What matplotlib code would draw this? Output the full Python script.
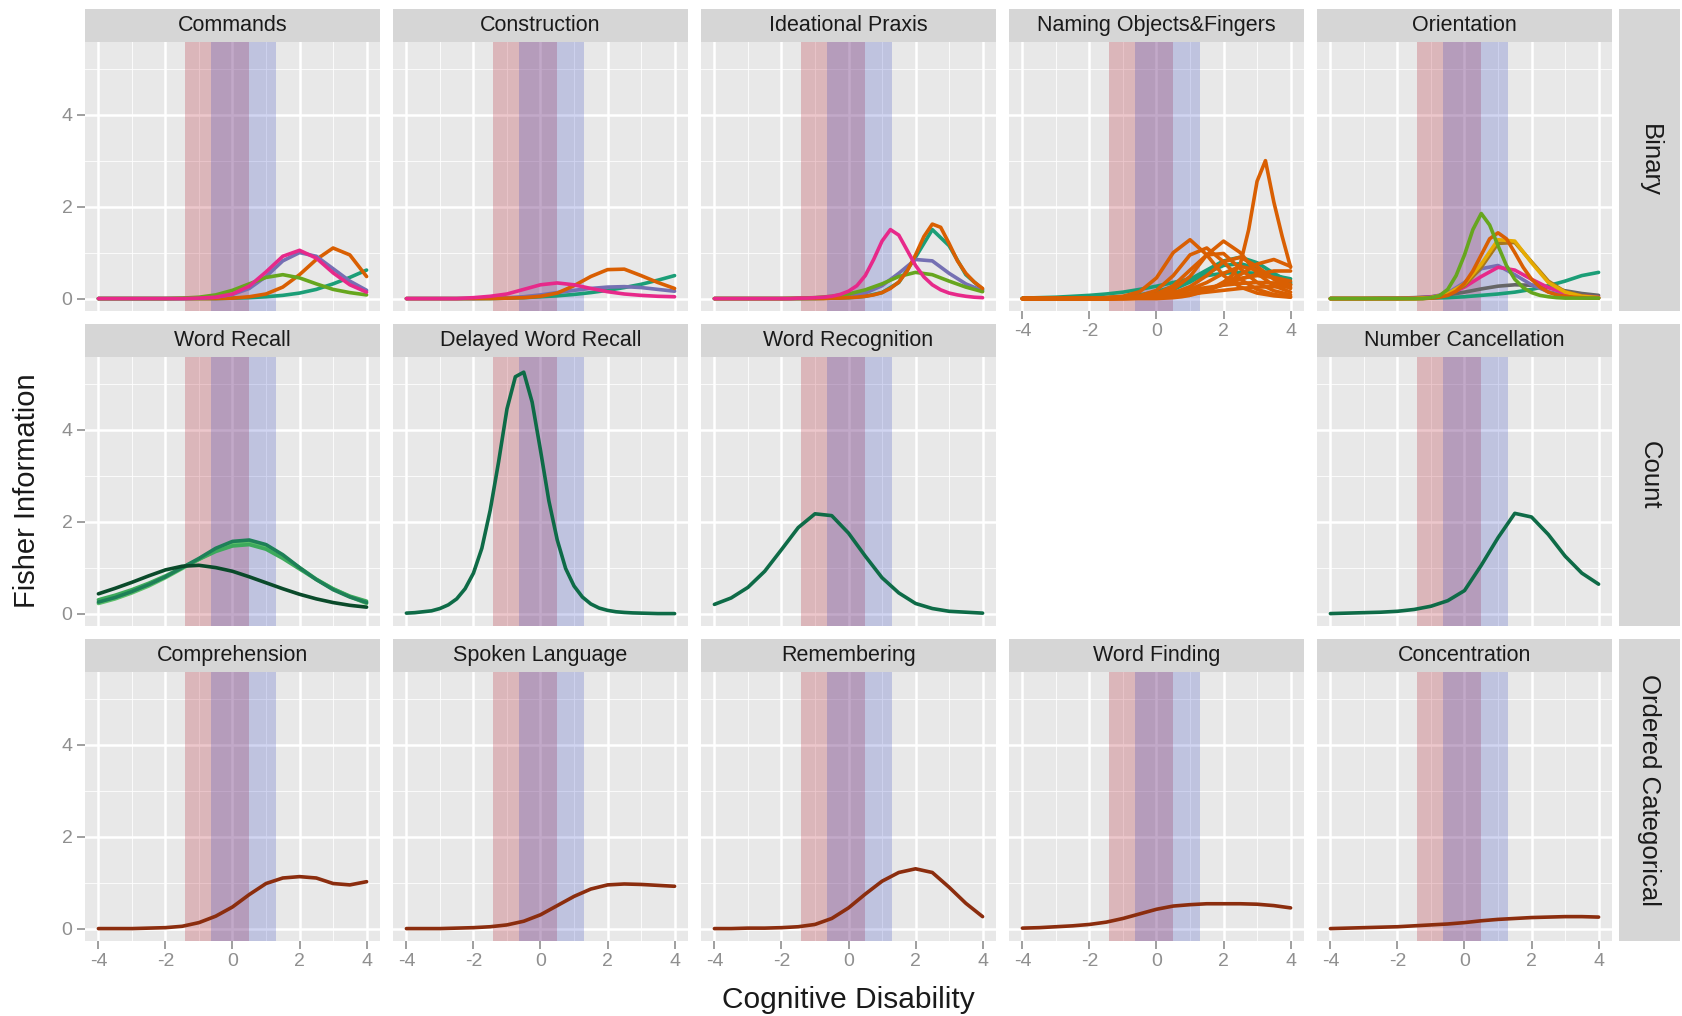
import matplotlib
matplotlib.use("Agg")
import matplotlib.pyplot as plt
from matplotlib.patches import Rectangle

plt.rcParams["font.family"] = ["Liberation Sans", "DejaVu Sans"]

# sample grids of the information curves (theta values)
X_HALF = [-4.0, -3.5, -3.0, -2.5, -2.0, -1.5, -1.0, -0.5, 0.0,
          0.5, 1.0, 1.5, 2.0, 2.5, 3.0, 3.5, 4.0]
X_QUARTER = [-4.0, -3.75, -3.5, -3.25, -3.0, -2.75, -2.5, -2.25, -2.0,
             -1.75, -1.5, -1.25, -1.0, -0.75, -0.5, -0.25, 0.0,
             0.25, 0.5, 0.75, 1.0, 1.25, 1.5, 1.75, 2.0,
             2.25, 2.5, 2.75, 3.0, 3.25, 3.5, 3.75, 4.0]

# shaded ability ranges
PINK_BAND = (-1.43, 0.48)
BLUE_BAND = (-0.63, 1.31)

TEAL, ORANGE, PURPLE, PINK = "#1B9E77", "#D95F02", "#7570B3", "#E7298A"
GREEN, YELLOW, BROWN, GREY = "#66A61E", "#E6AB02", "#A6761D", "#666666"
CNT_DARK, CNT_MID, CNT_LIGHT, CNT_PALE = "#0A4A2A", "#1E8058", "#3DAA5C", "#5CC06A"
CNT_ONE = "#0E6B47"
ORD = "#8B2D0E"

ROW_LABELS = ["Binary", "Count", "Ordered Categorical"]
PANEL_TITLES = [
    ["Commands", "Construction", "Ideational Praxis", "Naming Objects&Fingers", "Orientation"],
    ["Word Recall", "Delayed Word Recall", "Word Recognition", None, "Number Cancellation"],
    ["Comprehension", "Spoken Language", "Remembering", "Word Finding", "Concentration"],
]

# ---- Binary items ----
COMMANDS = [
    (TEAL,   [0, 0, 0, 0, 0, 0, 0, 0, 0.01, 0.02, 0.04, 0.07, 0.12, 0.2, 0.32, 0.46, 0.62]),
    (ORANGE, [0, 0, 0, 0, 0, 0, 0, 0, 0.01, 0.04, 0.1, 0.25, 0.52, 0.85, 1.1, 0.95, 0.48]),
    (PURPLE, [0, 0, 0, 0, 0, 0, 0.01, 0.03, 0.09, 0.22, 0.48, 0.82, 1.0, 0.92, 0.65, 0.38, 0.18]),
    (GREEN,  [0, 0, 0, 0, 0, 0.01, 0.03, 0.08, 0.18, 0.32, 0.46, 0.52, 0.45, 0.32, 0.2, 0.13, 0.08]),
    (PINK,   [0, 0, 0, 0, 0, 0, 0.01, 0.03, 0.1, 0.27, 0.58, 0.92, 1.05, 0.88, 0.56, 0.3, 0.14]),
]
CONSTRUCTION = [
    (TEAL,   [0, 0, 0, 0, 0, 0, 0.01, 0.02, 0.04, 0.06, 0.09, 0.13, 0.18, 0.24, 0.31, 0.4, 0.5]),
    (PURPLE, [0, 0, 0, 0, 0, 0.01, 0.02, 0.04, 0.08, 0.13, 0.18, 0.22, 0.25, 0.26, 0.24, 0.2, 0.16]),
    (ORANGE, [0, 0, 0, 0, 0, 0, 0.01, 0.02, 0.05, 0.12, 0.28, 0.48, 0.63, 0.64, 0.5, 0.35, 0.22]),
    (PINK,   [0, 0, 0, 0, 0.02, 0.05, 0.1, 0.2, 0.3, 0.34, 0.3, 0.22, 0.15, 0.1, 0.07, 0.05, 0.04]),
]
IDEATIONAL = [
    (TEAL,   [0, 0, 0, 0, 0, 0, 0, 0.01, 0.02, 0.05, 0.13, 0.35, 0.9, 1.5, 1.15, 0.52, 0.2]),
    (PURPLE, [0, 0, 0, 0, 0, 0, 0.01, 0.02, 0.05, 0.12, 0.28, 0.55, 0.85, 0.82, 0.55, 0.32, 0.17]),
    (GREEN,  [0, 0, 0, 0, 0, 0.01, 0.02, 0.05, 0.1, 0.19, 0.32, 0.48, 0.57, 0.52, 0.38, 0.25, 0.15]),
    (ORANGE, [0, 0, 0, 0, 0, 0, 0, 0, 0, 0, 0, 0, 0, 0, 0.01, 0.01,
              0.02, 0.03, 0.05, 0.08, 0.13, 0.22, 0.36, 0.6, 0.95, 1.35, 1.62, 1.55, 1.2, 0.82, 0.55, 0.36, 0.22]),
    (PINK,   [0, 0, 0, 0, 0, 0, 0, 0, 0, 0, 0.01, 0.01,
              0.02, 0.03, 0.05, 0.09, 0.16, 0.28, 0.5, 0.85, 1.25, 1.5, 1.38, 1.05, 0.72, 0.47, 0.3, 0.19, 0.12, 0.08, 0.05, 0.03, 0.02]),
]
NAMING = [
    (TEAL,   [0.01, 0.02, 0.03, 0.05, 0.07, 0.1, 0.14, 0.2, 0.27, 0.35, 0.43, 0.5, 0.55, 0.57, 0.55, 0.5, 0.43]),
    (TEAL,   [0, 0, 0, 0, 0.01, 0.02, 0.04, 0.08, 0.15, 0.26, 0.42, 0.62, 0.82, 0.9, 0.78, 0.55, 0.35]),
    (TEAL,   [0, 0, 0, 0, 0, 0.01, 0.02, 0.05, 0.1, 0.2, 0.36, 0.56, 0.72, 0.76, 0.66, 0.48, 0.32]),
    (ORANGE, [0, 0, 0, 0.01, 0.01, 0.02, 0.04, 0.06, 0.1, 0.14, 0.19, 0.24, 0.29, 0.33, 0.35, 0.34, 0.3]),
    (ORANGE, [0, 0, 0, 0, 0, 0, 0.01, 0.02, 0.04, 0.07, 0.1, 0.14, 0.18, 0.22, 0.25, 0.26, 0.25]),
    (ORANGE, [0, 0, 0, 0, 0.01, 0.02, 0.05, 0.15, 0.45, 1.0, 1.28, 0.95, 0.5, 0.25, 0.12, 0.06, 0.03]),
    (ORANGE, [0, 0, 0, 0, 0, 0.01, 0.02, 0.06, 0.18, 0.5, 0.95, 1.1, 0.8, 0.42, 0.2, 0.09, 0.04]),
    (ORANGE, [0, 0, 0, 0, 0, 0, 0.01, 0.03, 0.1, 0.28, 0.62, 0.95, 0.98, 0.65, 0.35, 0.17, 0.08]),
    (ORANGE, [0, 0, 0, 0, 0, 0, 0.01, 0.03, 0.08, 0.2, 0.48, 0.95, 1.25, 1.0, 0.55, 0.28, 0.14]),
    (ORANGE, [0, 0, 0, 0, 0, 0, 0.01, 0.02, 0.05, 0.1, 0.2, 0.35, 0.55, 0.7, 0.62, 0.45, 0.3]),
    (ORANGE, [0, 0, 0, 0, 0, 0, 0, 0.01, 0.03, 0.06, 0.12, 0.2, 0.32, 0.44, 0.5, 0.46, 0.38]),
    (ORANGE, [0, 0, 0, 0, 0, 0, 0, 0.01, 0.02, 0.05, 0.1, 0.18, 0.32, 0.52, 0.75, 0.85, 0.7]),
    (ORANGE, [0, 0, 0, 0, 0, 0, 0, 0.01, 0.02, 0.05, 0.1, 0.18, 0.3, 0.42, 0.53, 0.6, 0.6]),
    (ORANGE, [0, 0, 0, 0, 0, 0, 0.01, 0.02, 0.05, 0.12, 0.26, 0.5, 0.8, 0.9, 0.7, 0.42, 0.22]),
    (ORANGE, [0, 0, 0, 0, 0, 0, 0, 0, 0, 0, 0, 0, 0, 0, 0, 0, 0,
              0.01, 0.02, 0.04, 0.07, 0.12, 0.18, 0.26, 0.36, 0.5, 0.75, 1.5, 2.55, 3.0, 2.1, 1.35, 0.68]),
]
ORIENTATION = [
    (TEAL,   [0, 0, 0, 0, 0, 0, 0.01, 0.02, 0.04, 0.07, 0.1, 0.14, 0.2, 0.28, 0.38, 0.5, 0.57]),
    (GREY,   [0, 0, 0, 0.01, 0.01, 0.02, 0.04, 0.08, 0.14, 0.21, 0.27, 0.3, 0.29, 0.24, 0.17, 0.11, 0.07]),
    (PURPLE, [0, 0, 0, 0, 0, 0.01, 0.03, 0.12, 0.35, 0.65, 0.72, 0.52, 0.3, 0.15, 0.07, 0.03, 0.01]),
    (PINK,   [0, 0, 0, 0, 0, 0.01, 0.03, 0.09, 0.25, 0.48, 0.68, 0.62, 0.42, 0.24, 0.12, 0.06, 0.03]),
    (BROWN,  [0, 0, 0, 0, 0, 0, 0.02, 0.08, 0.28, 0.68, 1.2, 1.22, 0.8, 0.38, 0.15, 0.06, 0.02]),
    (YELLOW, [0, 0, 0, 0, 0, 0, 0.02, 0.1, 0.32, 0.75, 1.28, 1.25, 0.78, 0.35, 0.14, 0.05, 0.02]),
    (ORANGE, [0, 0, 0, 0, 0, 0, 0, 0, 0, 0, 0, 0, 0.01,
              0.03, 0.07, 0.16, 0.33, 0.6, 0.95, 1.3, 1.43, 1.3, 1.0, 0.68, 0.42, 0.25, 0.14, 0.08, 0.05, 0.03, 0.02, 0.01, 0.01]),
    (GREEN,  [0, 0, 0, 0, 0, 0, 0, 0, 0, 0, 0, 0,
              0.02, 0.06, 0.2, 0.5, 0.95, 1.5, 1.85, 1.6, 1.15, 0.72, 0.42, 0.24, 0.13, 0.07, 0.04, 0.02,
              0.01, 0.01, 0.01, 0.01, 0.01]),
]

# ---- Count items ----
WORD_RECALL = [
    (CNT_PALE,  [0.22, 0.32, 0.45, 0.6, 0.78, 0.98, 1.18, 1.38, 1.52, 1.55, 1.45, 1.25, 1.0, 0.75, 0.54, 0.37, 0.22]),
    (CNT_LIGHT, [0.3, 0.4, 0.52, 0.66, 0.82, 1.0, 1.18, 1.35, 1.47, 1.5, 1.4, 1.2, 0.97, 0.74, 0.54, 0.38, 0.27]),
    (CNT_MID,   [0.25, 0.35, 0.48, 0.63, 0.8, 1.0, 1.2, 1.42, 1.57, 1.6, 1.5, 1.28, 1.0, 0.74, 0.52, 0.36, 0.24]),
    (CNT_DARK,  [0.43, 0.55, 0.68, 0.82, 0.95, 1.03, 1.05, 1.0, 0.92, 0.8, 0.67, 0.54, 0.42, 0.32, 0.24, 0.18, 0.14]),
]
DELAYED_RECALL = [
    (CNT_ONE, [0.01, 0.02, 0.04, 0.06, 0.11, 0.19, 0.32, 0.54, 0.88, 1.42, 2.25, 3.3, 4.45, 5.15, 5.25, 4.6, 3.55,
               2.45, 1.6, 0.98, 0.6, 0.36, 0.21, 0.12, 0.07, 0.04, 0.025, 0.015, 0.01, 0.005, 0.0, 0.0, 0.0]),
]
WORD_RECOGNITION = [
    (CNT_ONE, [0.2, 0.34, 0.57, 0.92, 1.39, 1.87, 2.17, 2.13, 1.75, 1.25, 0.78, 0.45, 0.22, 0.11, 0.05, 0.03, 0.01]),
]
NUMBER_CANCEL = [
    (CNT_ONE, [0.0, 0.01, 0.02, 0.03, 0.05, 0.09, 0.16, 0.28, 0.5, 1.05, 1.65, 2.18, 2.1, 1.72, 1.25, 0.88, 0.64]),
]

# ---- Ordered categorical items ----
COMPREHENSION = [(ORD, [0.0, 0.0, 0.0, 0.01, 0.02, 0.05, 0.13, 0.27, 0.47, 0.74, 0.98, 1.1, 1.13, 1.1, 0.98, 0.95, 1.02])]
SPOKEN = [(ORD, [0.0, 0.0, 0.0, 0.01, 0.02, 0.04, 0.08, 0.16, 0.3, 0.5, 0.7, 0.86, 0.95, 0.97, 0.96, 0.94, 0.92])]
REMEMBERING = [(ORD, [0.0, 0.0, 0.01, 0.01, 0.02, 0.04, 0.09, 0.22, 0.45, 0.75, 1.03, 1.22, 1.3, 1.22, 0.9, 0.55, 0.26])]
WORD_FINDING = [(ORD, [0.01, 0.02, 0.04, 0.06, 0.09, 0.14, 0.22, 0.32, 0.42, 0.49, 0.52, 0.54, 0.54, 0.54, 0.53, 0.5, 0.45])]
CONCENTRATION = [(ORD, [0.0, 0.01, 0.02, 0.03, 0.04, 0.06, 0.08, 0.1, 0.13, 0.17, 0.2, 0.22, 0.24, 0.25, 0.26, 0.26, 0.25])]

PANEL_DATA = [
    [COMMANDS, CONSTRUCTION, IDEATIONAL, NAMING, ORIENTATION],
    [WORD_RECALL, DELAYED_RECALL, WORD_RECOGNITION, None, NUMBER_CANCEL],
    [COMPREHENSION, SPOKEN, REMEMBERING, WORD_FINDING, CONCENTRATION],
]

W, H = 1683, 1016
fig = plt.figure(figsize=(W / 100, H / 100), dpi=100)

PANEL_BG = "#E8E8E8"
STRIP_BG = "#D6D6D6"
TICK_COL = "#8F8F8F"

left0, col_step, pw = 85, 308, 295
top0, row_step, ph, sh = 42, 315, 269, 33


def fig_rect(x, y, w, h):
    return [x / W, 1 - (y + h) / H, w / W, h / H]


for r in range(3):
    top = top0 + r * row_step
    for c in range(5):
        series = PANEL_DATA[r][c]
        if series is None:
            continue
        left = left0 + c * col_step
        ax = fig.add_axes(fig_rect(left, top, pw, ph))
        ax.set_facecolor(PANEL_BG)
        ax.set_xlim(-4.4, 4.4)
        ax.set_ylim(-0.27, 5.58)
        for v in [-3, -1, 1, 3]:
            ax.axvline(v, color="white", lw=0.8, alpha=0.8, zorder=0.5)
        for v in [1, 3, 5]:
            ax.axhline(v, color="white", lw=0.8, alpha=0.8, zorder=0.5)
        for v in [-4, -2, 0, 2, 4]:
            ax.axvline(v, color="white", lw=1.8, zorder=0.6)
        for v in [0, 2, 4]:
            ax.axhline(v, color="white", lw=1.8, zorder=0.6)
        ax.axvspan(*PINK_BAND, color="#B2182B", alpha=0.24, lw=0, zorder=1)
        ax.axvspan(*BLUE_BAND, color="#3040C0", alpha=0.22, lw=0, zorder=1.1)
        for color, vals in series:
            xs = X_HALF if len(vals) == len(X_HALF) else X_QUARTER
            ax.plot(xs, vals, color=color, lw=2.6, solid_capstyle="round",
                    solid_joinstyle="round", zorder=3)
        for s in ax.spines.values():
            s.set_visible(False)
        ax.set_xticks([-4, -2, 0, 2, 4])
        ax.set_yticks([0, 2, 4])
        show_x = (r == 2) or (r == 0 and c == 3)
        ax.tick_params(axis="x", length=6 if show_x else 0, width=1.2, color=TICK_COL,
                       labelcolor=TICK_COL, labelsize=14, pad=3, labelbottom=show_x)
        ax.tick_params(axis="y", length=6 if c == 0 else 0, width=1.2, color=TICK_COL,
                       labelcolor=TICK_COL, labelsize=14, pad=3, labelleft=(c == 0))
        ax.set_xticklabels(["-4", "-2", "0", "2", "4"])
        # strip on top
        fig.patches.append(Rectangle(((left) / W, 1 - top / H), pw / W, sh / H,
                                     transform=fig.transFigure, facecolor=STRIP_BG,
                                     edgecolor="none", zorder=0))
        fig.text((left + pw / 2) / W, 1 - (top - sh / 2) / H, PANEL_TITLES[r][c],
                 ha="center", va="center", fontsize=15.5, color="#1A1A1A")
    # row strip on right
    fig.patches.append(Rectangle((1619 / W, 1 - (top + ph) / H), 61 / W, (ph + sh) / H,
                                 transform=fig.transFigure, facecolor=STRIP_BG,
                                 edgecolor="none", zorder=0))
    fig.text(1649.5 / W, 1 - (top + (ph - sh) / 2) / H, ROW_LABELS[r], rotation=-90,
             ha="center", va="center", fontsize=18.5, color="#1A1A1A")

fig.text(848 / W, 1 - 1000 / H, "Cognitive Disability", ha="center", va="center",
         fontsize=21.5, color="#1A1A1A")
fig.text(27 / W, 1 - 491 / H, "Fisher Information", ha="center", va="center",
         rotation=90, fontsize=21, color="#1A1A1A")

fig.savefig("out.png", dpi=100)
